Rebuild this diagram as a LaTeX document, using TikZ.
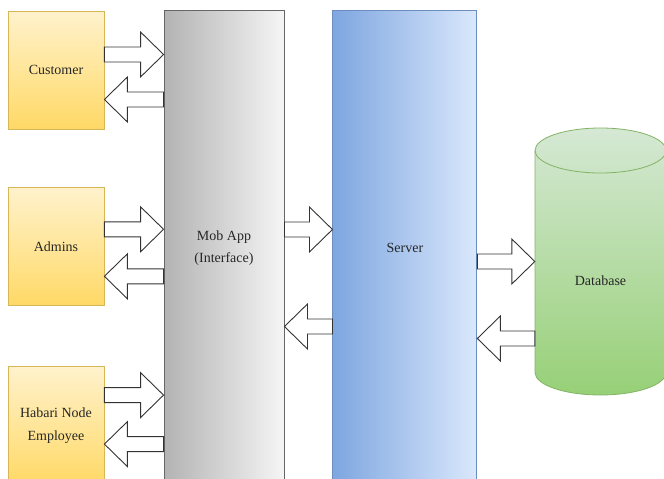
\documentclass[tikz,border=0pt]{standalone}
\usepackage{fontspec}
\setmainfont{Liberation Serif}
\usetikzlibrary{calc,positioning}

\definecolor{userTop}{HTML}{FFF2CC}
\definecolor{userBot}{HTML}{FFD966}
\definecolor{userLine}{HTML}{D6B656}
\definecolor{appLeft}{HTML}{B3B3B3}
\definecolor{appRight}{HTML}{F5F5F5}
\definecolor{appLine}{HTML}{666666}
\definecolor{srvLeft}{HTML}{7EA6E0}
\definecolor{srvRight}{HTML}{DAE8FC}
\definecolor{srvLine}{HTML}{6C8EBF}
\definecolor{dbTop}{HTML}{D5E8D4}
\definecolor{dbBot}{HTML}{97D077}
\definecolor{dbLine}{HTML}{82B366}

% block arrow: tail x from #1, tip x from #2, height from #3
\newcommand{\fatarrow}[3]{%
	\draw[fat] let \p1=(#1), \p2=(#2), \p3=#3, \n1={23*(\x1-\x2)/abs(\x1-\x2)} in
		(\x1,\y3+7.5) -- (\x2+\n1,\y3+7.5) -- (\x2+\n1,\y3+22.5) -- (\x2,\y3)
		-- (\x2+\n1,\y3-22.5) -- (\x2+\n1,\y3-7.5) -- (\x1,\y3-7.5) -- cycle;}

\begin{document}
\begin{tikzpicture}[
		x=1pt, y=1pt,
		font=\fontsize{14}{22.5}\selectfont,
		text=black!85,
		fat/.style={draw=black!80, fill=white, line width=0.9pt, line join=miter},
		userbox/.style={draw=userLine, line width=0.8pt, top color=userTop, bottom color=userBot, minimum width=96pt, minimum height=118pt, align=center},
		tier/.style={line width=0.9pt, minimum height=476pt, align=center},
	]
		\useasboundingbox (0,0) rectangle (664,-479);
		\clip (0,0) rectangle (664,-479);

		\node (cust) [userbox] at (56,-70) {Customer};
		\node (adm) [userbox, below=58pt of cust] {Admins};
		\node (hab) [userbox, below=60pt of adm] {Habari Node\\Employee};

		\node (mob) [tier, minimum width=120pt, draw=appLine, left color=appLeft, right color=appRight] at (224,-248) {Mob App\\(Interface)};
		\node (srv) [tier, minimum width=144pt, draw=srvLine, left color=srvLeft, right color=srvRight, right=48pt of mob] {Server};

		\coordinate (dbc) at (600.5,-261.5);
		\draw[draw=dbLine, line width=0.8pt, top color=dbTop, bottom color=dbBot]
			($(dbc)+(-65.5,111)$) -- ($(dbc)+(-65.5,-111)$)
			arc[start angle=180, end angle=360, x radius=65.5, y radius=22.5]
			-- ($(dbc)+(65.5,111)$)
			arc[start angle=0, end angle=180, x radius=65.5, y radius=22.5] -- cycle;
		\draw[draw=dbLine, line width=0.8pt] ($(dbc)+(-65.5,111)$) arc[start angle=180, end angle=360, x radius=65.5, y radius=22.5];
		\node (db) [minimum width=131pt] at ([yshift=-19.5pt]dbc) {Database};

		\fatarrow{cust.east}{mob.west}{([yshift=15.5pt]cust.east)}
		\fatarrow{mob.west}{cust.east}{([yshift=-29.5pt]cust.east)}
		\fatarrow{adm.east}{mob.west}{([yshift=17.5pt]adm.east)}
		\fatarrow{mob.west}{adm.east}{([yshift=-29.5pt]adm.east)}
		\fatarrow{hab.east}{mob.west}{([yshift=30.5pt]hab.east)}
		\fatarrow{mob.west}{hab.east}{([yshift=-18.5pt]hab.east)}

		\fatarrow{mob.east}{srv.west}{([yshift=18.5pt]srv.west)}
		\fatarrow{srv.west}{mob.east}{([yshift=-78.5pt]srv.west)}

		\fatarrow{srv.east}{db.west}{([yshift=19.5pt]db.west)}
		\fatarrow{db.west}{srv.east}{([yshift=-57.5pt]db.west)}
	\end{tikzpicture}
\end{document}
